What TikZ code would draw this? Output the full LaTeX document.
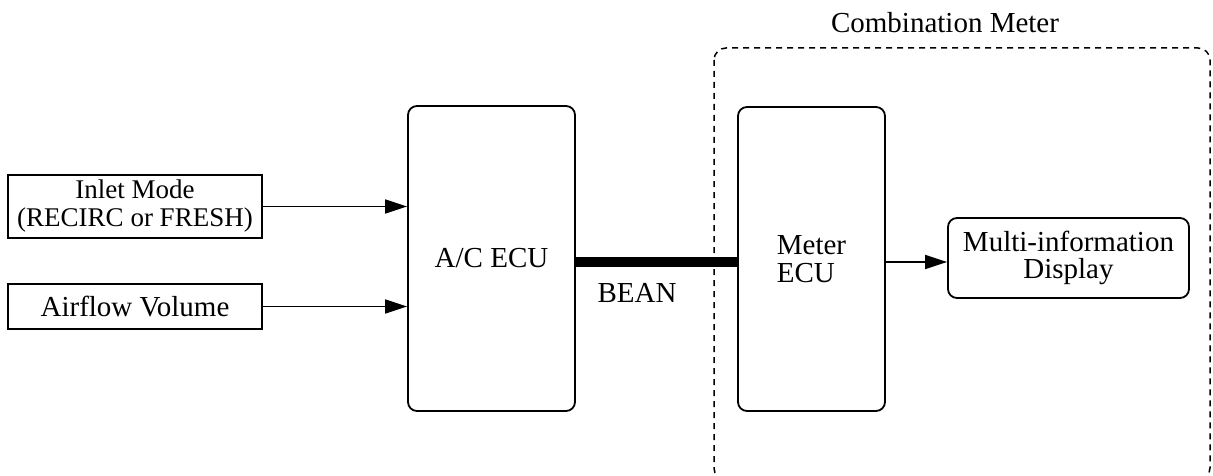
\documentclass[tikz,border=0pt]{standalone}
\usepackage{fontspec}
\setmainfont{Liberation Serif}
\usepackage{tikz}
\usetikzlibrary{arrows.meta}
\tikzset{
  blk/.style={draw, line width=1.8pt, align=center, inner sep=0pt},
  rblk/.style={blk, rounded corners=9pt},
  sig/.style={line width=1.6pt, -{Triangle[length=22pt,width=14pt]}},
}
\begin{document}
\begin{tikzpicture}[x=1pt, y=-1pt, font=\fontsize{29}{28}\selectfont]
\useasboundingbox (0,0) rectangle (1213,476);
\draw[line width=1.5pt, dash pattern=on 6pt off 5pt, rounded corners=12pt] (714,48) rectangle (1210,480);
\node at (945,23) (cm) {Combination Meter};
\node[blk, minimum width=254pt, minimum height=63pt, font=\fontsize{27}{28}\selectfont] at (135,206.5) (inlet) {Inlet Mode\\(RECIRC or FRESH)};
\node[blk, minimum width=254pt, minimum height=45pt] at (135,306.5) (air) {Airflow Volume};
\node[rblk, minimum width=167pt, minimum height=305pt] at (491.5,258.5) (ac) {A/C ECU};
\node[rblk, minimum width=147pt, minimum height=304pt, align=left] at (811.5,259) (meter) {Meter\\ECU};
\node[rblk, minimum width=241pt, minimum height=80pt, font=\fontsize{29}{27}\selectfont] at (1068.5,258) (mid) {Multi-information\\Display};
\node at (637,293) (bean) {BEAN};
\draw[sig] (inlet.east) -- (inlet.east -| ac.west);
\draw[sig] (air.east) -- (air.east -| ac.west);
\draw[line width=10pt] (ac.east |- 0,262) -- (meter.west |- 0,262);
\draw[sig] (meter.east |- 0,262) -- (mid.west |- 0,262);
\end{tikzpicture}
\end{document}
